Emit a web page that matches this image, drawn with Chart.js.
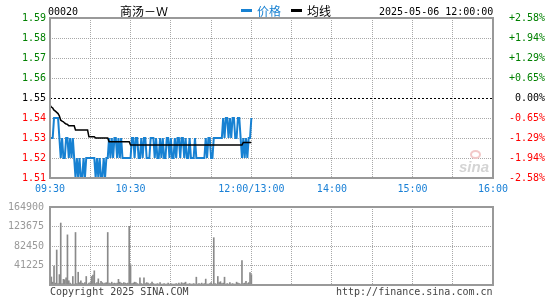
<!DOCTYPE html>
<html><head><meta charset="utf-8">
<script src="https://cdn.jsdelivr.net/npm/chart.js@4/dist/chart.umd.min.js"></script>
<style>
html,body{margin:0;padding:0;background:#fff;}
#wrap{position:relative;width:545px;height:300px;overflow:hidden;font-family:"DejaVu Sans Mono",monospace;font-size:10px;color:#000;}
.t{position:absolute;white-space:nowrap;line-height:12px;}
.cjk{font-family:"Noto Sans CJK SC","DejaVu Sans Mono",sans-serif;font-size:12px;}
.sw{position:absolute;height:3px;width:11px;}
#c1{position:absolute;left:0;top:0;}
#c2{position:absolute;left:0;top:195px;}
#logo{position:absolute;left:457px;top:150px;width:36px;height:26px;}
</style></head><body>
<div id="wrap">
<canvas id="c1" width="545" height="200"></canvas>
<canvas id="c2" width="545" height="105"></canvas>
<div class="t" style="left:48px;top:6px;">00020</div>
<div class="t cjk" style="left:120px;top:5px;">商汤－Ｗ</div>
<div class="sw" style="left:241px;top:9px;background:#1781d2;"></div>
<div class="t cjk" style="left:257px;top:5px;color:#1781d2;">价格</div>
<div class="sw" style="left:291px;top:9px;background:#000;"></div>
<div class="t cjk" style="left:307px;top:5px;">均线</div>
<div class="t" style="left:379px;top:6px;">2025-05-06 12:00:00</div>
<div class="t" style="left:50px;top:286px;color:#444;">Copyright 2025 SINA.COM</div>
<div class="t" style="left:336px;top:286px;color:#444;">http://finance.sina.com.cn</div>
<div id="logo">
  <div style="position:absolute;left:13px;top:0px;width:11px;height:9px;border-radius:50%;border:2px solid #f2c8c8;box-sizing:border-box;"></div>
  <div class="t" style="left:2px;top:9px;font-family:'Liberation Sans',sans-serif;font-style:italic;font-weight:bold;font-size:15px;line-height:15px;color:#d4d4d4;">sina</div>
</div>
</div>
<script>
// ---- data ----
const prevClose = 1.55;
const gridMinutes = [0,30,60,90,120,150,180,210,240,270,300,330];
const timeLabelMinutes = [0,60,150,210,270,330];
const timeLabelTexts = ['09:30','10:30','12:00/13:00','14:00','15:00','16:00'];
const priceTicks = [1.51,1.52,1.53,1.54,1.55,1.56,1.57,1.58,1.59];
const volumeTicks = [0,41225,82450,123675,164900];

// one value per minute, 09:30 .. 12:00
const price = [
 1.53,1.53,1.53,1.54,1.54,1.54,1.54,1.53,1.52,1.53,
 1.52,1.52,1.53,1.53,1.52,1.53,1.52,1.53,1.52,1.51,
 1.52,1.51,1.52,1.51,1.51,1.52,1.51,1.52,1.52,1.52,
 1.52,1.52,1.52,1.52,1.51,1.52,1.51,1.52,1.51,1.51,
 1.52,1.51,1.52,1.52,1.53,1.52,1.53,1.52,1.53,1.53,
 1.52,1.53,1.52,1.53,1.52,1.52,1.52,1.52,1.52,1.52,
 1.52,1.53,1.53,1.52,1.53,1.53,1.52,1.52,1.53,1.52,
 1.53,1.53,1.52,1.52,1.52,1.53,1.53,1.53,1.52,1.53,
 1.52,1.52,1.53,1.52,1.53,1.52,1.52,1.53,1.53,1.52,
 1.53,1.52,1.52,1.53,1.52,1.53,1.53,1.52,1.53,1.53,
 1.52,1.53,1.52,1.52,1.53,1.52,1.52,1.52,1.53,1.52,
 1.52,1.52,1.52,1.52,1.52,1.52,1.53,1.52,1.53,1.53,
 1.52,1.52,1.53,1.53,1.53,1.53,1.53,1.53,1.53,1.54,
 1.53,1.54,1.54,1.53,1.54,1.53,1.54,1.54,1.53,1.53,
 1.54,1.54,1.53,1.52,1.53,1.52,1.53,1.52,1.53,1.53,
 1.54
];
const avgPrice = [
 1.5464,1.5455,1.5450,1.5439,1.5434,1.5428,1.5422,1.5410,1.5389,1.5384,
 1.5381,1.5374,1.5370,1.5368,1.5361,1.5361,1.5361,1.5361,1.5361,1.5340,
 1.5340,1.5340,1.5340,1.5340,1.5340,1.5340,1.5340,1.5340,1.5340,1.5306,
 1.5306,1.5306,1.5306,1.5306,1.5300,1.5300,1.5300,1.5300,1.5300,1.5300,
 1.5300,1.5300,1.5300,1.5300,1.5281,1.5281,1.5281,1.5281,1.5281,1.5281,
 1.5281,1.5281,1.5281,1.5281,1.5281,1.5281,1.5281,1.5281,1.5281,1.5281,
 1.5265,1.5265,1.5265,1.5265,1.5265,1.5265,1.5265,1.5265,1.5265,1.5265,
 1.5265,1.5265,1.5265,1.5265,1.5265,1.5265,1.5265,1.5265,1.5265,1.5265,
 1.5265,1.5265,1.5265,1.5265,1.5265,1.5265,1.5265,1.5265,1.5265,1.5265,
 1.5265,1.5265,1.5265,1.5265,1.5265,1.5265,1.5265,1.5265,1.5265,1.5265,
 1.5265,1.5265,1.5265,1.5265,1.5265,1.5265,1.5265,1.5265,1.5265,1.5265,
 1.5265,1.5265,1.5265,1.5265,1.5265,1.5265,1.5265,1.5265,1.5265,1.5265,
 1.5265,1.5265,1.5265,1.5265,1.5265,1.5265,1.5265,1.5265,1.5265,1.5265,
 1.5265,1.5265,1.5265,1.5265,1.5265,1.5265,1.5265,1.5265,1.5265,1.5265,
 1.5265,1.5265,1.5265,1.5265,1.5278,1.5278,1.5278,1.5278,1.5278,1.5278,
 1.5278
];
const volume = [
 15000,17000,6000,40000,4000,74000,3000,22000,131000,3000,
 12000,11000,15000,106000,9000,4000,2000,18000,2000,111000,
 3000,27000,5000,9000,4000,3000,5000,18000,2000,4000,
 5000,18000,21000,30000,3000,5000,13000,3000,8000,5000,
 3000,4000,5000,111000,4000,3000,6000,3000,4000,3000,
 4000,12000,6000,4000,3000,5000,4000,3000,4000,124000,
 43000,3000,4000,6000,5000,3000,2000,15000,3000,2000,
 15000,3000,5000,4000,2000,3000,6000,3000,2000,2000,
 3000,2000,5000,2000,2000,3000,2000,2000,4000,2000,
 3000,2000,2000,2000,3000,2000,4000,2000,5000,3000,
 4000,6000,2000,2000,3000,2000,2000,3000,2000,16500,
 2000,3000,2000,4000,2000,3000,12500,2000,2000,3000,
 5000,2000,100000,3000,2000,18000,5000,7000,3000,4000,
 16500,2000,3000,2000,5000,2000,3000,2000,2000,6000,
 4000,3000,2000,51500,3000,4000,8000,3000,5000,26000,
 22000
];

// ---- chart ----
const FONT = {family:'"DejaVu Sans Mono", monospace', size:10};
const GRID_C = '#a8a8a8';
const DOT = [1,1];
const setTicks = arr => s => { s.ticks = arr.map(v => ({value:v})); };

const framePlugin = {
  id:'frame',
  beforeDatasetsDraw(chart, args, opts){
    if (opts.refValue === undefined) return;
    const {ctx, chartArea:a, scales} = chart;
    const y = Math.round(scales.y.getPixelForValue(opts.refValue)) + 0.5;
    ctx.save(); ctx.strokeStyle = '#000'; ctx.lineWidth = 1; ctx.setLineDash([2,2]);
    ctx.beginPath(); ctx.moveTo(a.left, y); ctx.lineTo(a.right, y); ctx.stroke(); ctx.restore();
  },
  afterDatasetsDraw(chart){
    const {ctx, chartArea:a} = chart;
    ctx.save(); ctx.strokeStyle = '#999'; ctx.lineWidth = 2; ctx.setLineDash([]);
    ctx.strokeRect(Math.round(a.left), Math.round(a.top), Math.round(a.right - a.left), Math.round(a.bottom - a.top));
    ctx.restore();
  }
};

const pct = v => {
  const p = (v - prevClose) / prevClose * 100;
  if (Math.abs(p) < 0.005) return '0.00%';
  return (p > 0 ? '+' : '') + p.toFixed(2) + '%';
};
const priceColor = ctx => {
  const c = Math.round(ctx.tick.value * 100), r = Math.round(prevClose * 100);
  return c > r ? '#008000' : (c < r ? '#ff0000' : '#000000');
};

new Chart(document.getElementById('c1'), {
  type:'line',
  data:{datasets:[
    {label:'均线', data: avgPrice.map((v,i)=>({x:i,y:v})), borderColor:'#000', borderWidth:1.5, pointRadius:0, tension:0, clip:4, order:0},
    {label:'价格', data: price.map((v,i)=>({x:i,y:v})), borderColor:'#1781d2', borderWidth:2, pointRadius:0, tension:0, clip:4, order:1}
  ]},
  options:{
    responsive:false, animation:false, devicePixelRatio:1, events:[],
    layout:{padding:{top:18,left:0,right:0,bottom:0}},
    plugins:{legend:{display:false}, tooltip:{enabled:false}, frame:{refValue:prevClose}},
    scales:{
      x:{type:'linear', min:0, max:330, afterBuildTicks:setTicks(gridMinutes), afterFit:s=>{s.height=22;},
         ticks:{autoSkip:false, maxRotation:0, minRotation:0, padding:5, color:'#1a80d6', font:FONT,
                callback:v=>{const i=timeLabelMinutes.indexOf(v); return i>=0?timeLabelTexts[i]:'';}},
         grid:{color:GRID_C, drawTicks:false, lineWidth:1, borderDash:DOT}, border:{display:false, dash:DOT}},
      y:{position:'left', min:1.51, max:1.59, afterBuildTicks:setTicks(priceTicks), afterFit:s=>{s.width=50;},
         ticks:{padding:4, color:priceColor, font:FONT, callback:v=>v.toFixed(2)},
         grid:{color:ctx=>Math.round(ctx.tick.value*100)===Math.round(prevClose*100)?'rgba(0,0,0,0)':GRID_C, drawTicks:false, lineWidth:1, borderDash:DOT},
         border:{display:false, dash:DOT}},
      y2:{position:'right', min:1.51, max:1.59, afterBuildTicks:setTicks(priceTicks), afterFit:s=>{s.width=52;},
         ticks:{padding:2, crossAlign:'far', color:priceColor, font:FONT, callback:v=>pct(v)},
         grid:{display:false}, border:{display:false}}
    }
  },
  plugins:[framePlugin]
});

new Chart(document.getElementById('c2'), {
  type:'bar',
  data:{datasets:[
    {label:'成交量', data: volume.map((v,i)=>({x:i,y:v})), backgroundColor:'#8a8a8a', borderWidth:0, barThickness:1}
  ]},
  options:{
    responsive:false, animation:false, devicePixelRatio:1, events:[],
    layout:{padding:{top:7,left:0,right:52,bottom:15}},
    plugins:{legend:{display:false}, tooltip:{enabled:false}, frame:{}},
    scales:{
      x:{type:'linear', min:0, max:330, offset:false, afterBuildTicks:setTicks(gridMinutes), afterFit:s=>{s.height=0;},
         ticks:{display:false}, grid:{color:GRID_C, drawTicks:false, lineWidth:1, offset:false, borderDash:DOT}, border:{display:false, dash:DOT}},
      y:{position:'left', min:0, max:164900, afterBuildTicks:setTicks(volumeTicks), afterFit:s=>{s.width=50;},
         ticks:{padding:6, color:'#999', font:FONT, callback:v=>v===0?'':String(v)},
         grid:{color:GRID_C, drawTicks:false, lineWidth:1, borderDash:DOT}, border:{display:false, dash:DOT}}
    }
  },
  plugins:[framePlugin]
});
</script>
</body></html>
